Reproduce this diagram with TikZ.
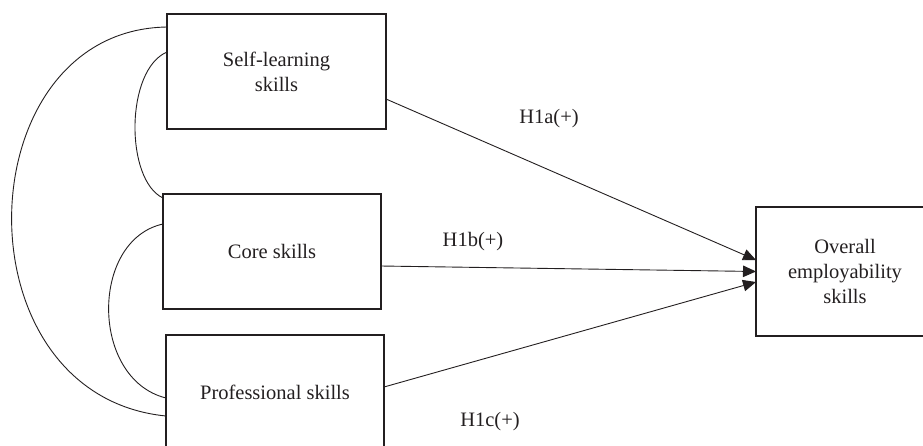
\documentclass[tikz,border=0pt]{standalone}
\usepackage{fontspec}
\setmainfont{Liberation Serif}
\usetikzlibrary{arrows.meta}
\definecolor{ink}{HTML}{231F20}
\begin{document}
\begin{tikzpicture}[x=1pt,y=-1pt,
  box/.style={draw=ink,line width=1.2pt,inner sep=0pt,outer sep=0pt,anchor=north west,align=center,text=ink,
    font=\fontsize{20.5}{25}\selectfont},
  lbl/.style={text=ink,inner sep=0pt,font=\fontsize{20.5}{25}\selectfont},
  link/.style={draw=ink,line width=0.9pt},
  hyp/.style={draw=ink,line width=0.9pt,-{Triangle[length=13pt,width=11.5pt]}}]
\useasboundingbox (0,0) rectangle (923,445);
\clip (0,0) rectangle (923,445);
\node[box,minimum width=219pt,minimum height=115pt] (self) at (167,14) {Self-learning\\skills};
\node[box,minimum width=218pt,minimum height=115pt] (core) at (163,194) {Core skills};
\node[box,minimum width=218pt,minimum height=115pt] (prof) at (166,335) {Professional skills};
\node[box,minimum width=178pt,minimum height=129pt] (ov) at (756,207) {Overall\\employability\\skills};
\node[lbl] (ha) at (549,119) {H1a(+)};
\node[lbl] (hb) at (473,242) {H1b(+)};
\node[lbl] (hc) at (490,422) {H1c(+)};
% hypotheses
\draw[hyp] ([yshift=-27.5pt]self.east) -- ([yshift=11.5pt]ov.west);
\draw[hyp] ([yshift=-14.5pt]core.east) -- ([yshift=0pt]ov.west);
\draw[hyp] ([yshift=5.5pt]prof.east) -- ([yshift=-10.5pt]ov.west);
% correlations
\draw[link] ([yshift=-13pt]self.north west) .. controls (-35,30) and (-45,395) .. ([yshift=-81pt]prof.north west);
\draw[link] ([yshift=-38pt]self.north west) .. controls (125,70) and (125,180) .. ([yshift=-4pt]core.north west);
\draw[link] ([yshift=-30pt]core.north west) .. controls (90,240) and (90,379) .. ([yshift=-63pt]prof.north west);
\end{tikzpicture}
\end{document}
